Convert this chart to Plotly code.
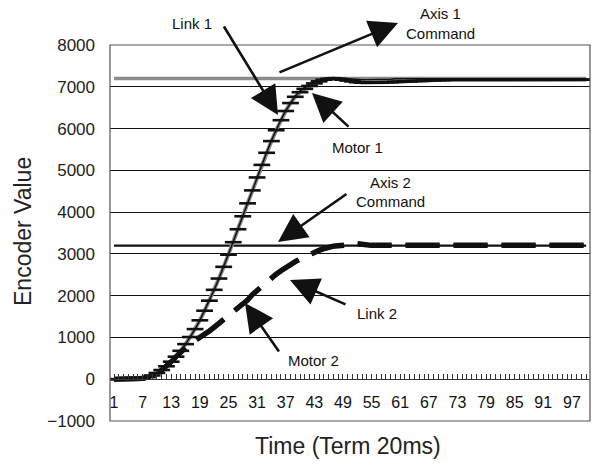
import plotly.graph_objects as go

# ---------------- data ----------------
time = list(range(1, 101))
tick_values = list(range(1, 98, 6))
tick_labels = [str(t) for t in tick_values]

axis1_command = [7200] * 100
axis2_command = [3200] * 100

motor1_head = [0, 0, 0, 0, 0, 5, 20, 50, 90, 150, 220, 310, 420, 540, 680, 840, 1010, 1200, 1410, 1640,
               1880, 2140, 2410, 2690, 2980, 3280, 3590, 3900, 4210, 4520, 4830, 5130, 5420, 5700, 5960,
               6200, 6420, 6610, 6760, 6870, 6950, 7020, 7080, 7130, 7170, 7190, 7200, 7190, 7170, 7150,
               7130, 7110, 7100, 7100, 7100, 7100, 7100, 7110, 7110, 7120, 7120, 7130, 7130, 7140, 7140]
motor1 = motor1_head + [7150, 7150, 7160, 7160, 7160, 7170, 7170, 7170, 7170, 7170, 7170, 7170, 7170, 7170,
                        7170, 7170, 7170, 7170, 7170, 7170, 7170, 7170, 7170, 7170, 7170, 7170, 7170, 7170,
                        7170, 7170, 7170, 7170, 7170, 7170, 7170]

link1_head = [0, 0, 0, 0, 0, 5, 20, 50, 90, 150, 220, 310, 420, 540, 680, 840, 1010, 1200, 1410, 1640,
              1880, 2140, 2410, 2690, 2990, 3290, 3600, 3910, 4220, 4530, 4840, 5140, 5430, 5710, 5970,
              6210, 6430, 6620, 6780, 6900, 6990, 7070, 7130, 7170, 7200, 7210, 7220, 7210, 7200, 7190,
              7180, 7170, 7170, 7170, 7170, 7170, 7180, 7180, 7180, 7190, 7190, 7190, 7190, 7190, 7190]
link1 = link1_head + [7190] * 35

link2_head = [0, 0, 0, 0, 0, 5, 20, 50, 90, 150, 220, 310, 420, 540, 660, 770, 860, 930, 1000, 1080,
              1160, 1250, 1340, 1430, 1520, 1610, 1700, 1800, 1900, 2030, 2130, 2250, 2340, 2430, 2520,
              2600, 2680, 2750, 2820, 2880, 2940, 2990, 3040, 3090, 3130, 3170, 3190, 3200, 3210, 3220,
              3260, 3240, 3220, 3220, 3210, 3210, 3210, 3210, 3220, 3220, 3220, 3220, 3210, 3210, 3210]
link2 = link2_head + [3210] * 35
motor2 = [v if i < 17 else v - 10 for i, v in enumerate(link2)]

# ---------------- figure ----------------
FONT = "Liberation Sans, Arial, sans-serif"
fig = go.Figure()

fig.add_trace(go.Scatter(x=time, y=axis1_command, mode="lines", name="Axis 1 Command",
                         line=dict(color="#8c8c8c", width=3.5)))
fig.add_trace(go.Scatter(x=time, y=axis2_command, mode="lines", name="Axis 2 Command",
                         line=dict(color="#111111", width=2.2)))
fig.add_trace(go.Scatter(x=time, y=motor1, mode="lines+markers", name="Motor 1",
                         line=dict(color="#8a8a8a", width=4),
                         marker=dict(symbol="line-ew", size=12, line=dict(color="#111111", width=2.6))))
fig.add_trace(go.Scatter(x=time, y=link1, mode="lines", name="Link 1",
                         line=dict(color="#111111", width=1.5)))
fig.add_trace(go.Scatter(x=time, y=motor2, mode="lines", name="Motor 2",
                         line=dict(color="#111111", width=5, dash="34px,14px")))
fig.add_trace(go.Scatter(x=time, y=link2, mode="lines", name="Link 2",
                         line=dict(color="#111111", width=5, dash="34px,14px")))

# plot rectangle on screen (body margin is removed by post_script)
W, H = 593, 468
SX0, SX1, SY0, SY1 = 110, 590, 45, 421
L = SX0
T = SY0
R = W - SX1
B = H - SY1


def px(x):
    return (x - SX0) / (SX1 - SX0)


def py(y):
    return (SY1 - y) / (SY1 - SY0)


annotations = []
# arrows: (tip_x, tip_y, tail_x, tail_y) in screen pixels
arrows = [
    (278, 115, 223, 25),
    (398, 23, 278, 73),
    (312, 93, 350, 128),
    (278, 242, 348, 193),
    (290, 280, 347, 305),
    (245, 303, 280, 353),
]
for tx, ty, sx, sy in arrows:
    annotations.append(dict(x=px(tx), y=py(ty), xref="paper", yref="paper", text="",
                            showarrow=True, ax=sx - tx, ay=sy - ty, axref="pixel", ayref="pixel",
                            arrowhead=2, arrowsize=2.2, arrowwidth=2.6, arrowcolor="#111111",
                            standoff=0, startstandoff=0))

labels = [
    ("Link 1", 192, 24),
    ("Axis 1", 440, 13),
    ("Command", 440, 33),
    ("Motor 1", 357, 147),
    ("Axis 2", 390, 182),
    ("Command", 390, 202),
    ("Link 2", 377, 313),
    ("Motor 2", 313, 360),
]
for txt, x, y in labels:
    annotations.append(dict(x=px(x), y=py(y), xref="paper", yref="paper", text=txt,
                            showarrow=False, xanchor="center", yanchor="middle",
                            font=dict(family=FONT, size=15, color="#111111")))

annotations.append(dict(x=px(348), y=py(446), xref="paper", yref="paper", text="Time (Term 20ms)",
                        showarrow=False, xanchor="center", yanchor="middle",
                        font=dict(family=FONT, size=23, color="#222222")))
annotations.append(dict(x=px(23), y=py(232), xref="paper", yref="paper", text="Encoder Value",
                        showarrow=False, xanchor="center", yanchor="middle", textangle=-90,
                        font=dict(family=FONT, size=23, color="#222222")))

fig.update_layout(
    width=W, height=H,
    margin=dict(l=L, r=R, t=T, b=B, pad=0, autoexpand=False),
    paper_bgcolor="white", plot_bgcolor="white",
    showlegend=False,
    font=dict(family=FONT, color="#222222"),
    annotations=annotations,
    shapes=[dict(type="rect", xref="paper", yref="paper", x0=0, y0=0, x1=1, y1=1,
                 line=dict(color="#555555", width=1.2), layer="above")],
    xaxis=dict(range=[0.16, 100.8], anchor="free", position=1 / 9,
               showgrid=False, zeroline=False,
               showline=True, linecolor="#333333", linewidth=1,
               ticks="inside", ticklen=5, tickcolor="#333333", tickwidth=1,
               tickvals=tick_values, ticktext=tick_labels,
               tickfont=dict(size=16, color="#111111"), ticklabelstandoff=9,
               minor=dict(dtick=1, tick0=0, ticks="inside", ticklen=5, tickcolor="#333333", showgrid=False)),
    yaxis=dict(range=[-1000, 8000], dtick=1000, showgrid=True, gridcolor="#111111", gridwidth=1,
               zeroline=False, showline=False, ticks="",
               tickfont=dict(size=17, color="#222222"), ticklabelstandoff=14),
)

fig.write_html("out.html",
               config={"displayModeBar": False, "staticPlot": True},
               post_script="document.body.style.margin='0px';document.body.style.overflow='hidden';")
